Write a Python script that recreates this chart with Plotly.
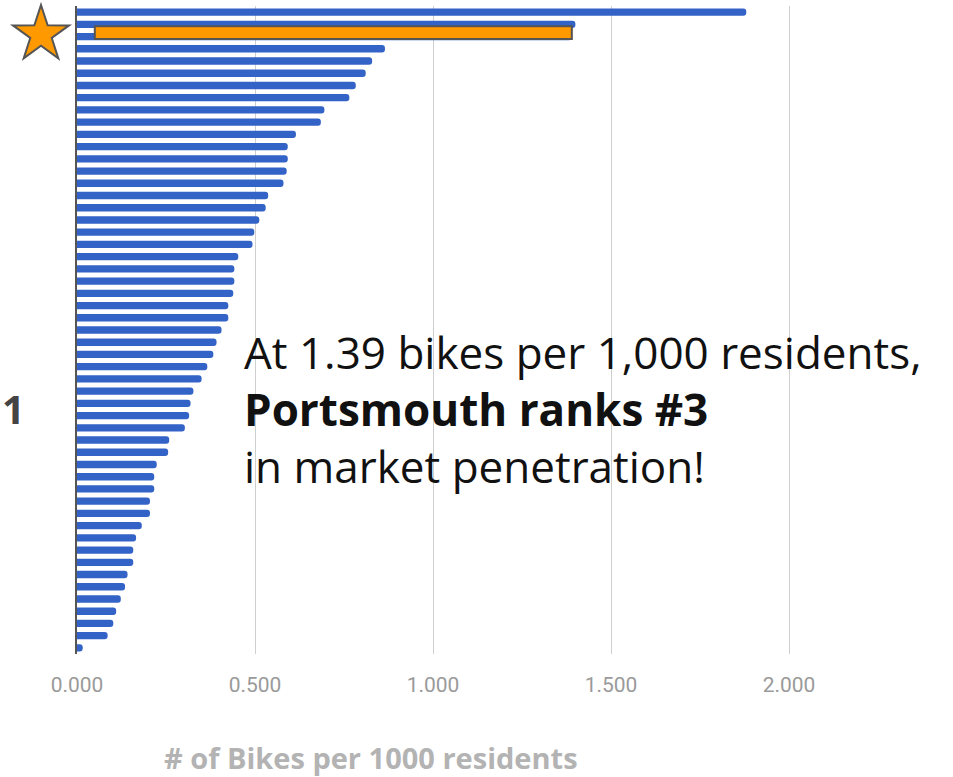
import math
import plotly.graph_objects as go

# Bikes per 1000 residents, ranked (rank 1 = highest)
ranks = list(range(1, 54))
bikes_per_1000 = [
    1.88, 1.40, 1.39, 0.865, 0.829, 0.811, 0.783, 0.765, 0.695, 0.685,
    0.615, 0.592, 0.592, 0.589, 0.580, 0.537, 0.530, 0.512, 0.498, 0.493,
    0.453, 0.442, 0.442, 0.439, 0.425, 0.425, 0.406, 0.392, 0.383, 0.366,
    0.350, 0.327, 0.319, 0.315, 0.303, 0.259, 0.256, 0.224, 0.217, 0.217,
    0.205, 0.205, 0.182, 0.166, 0.158, 0.158, 0.142, 0.135, 0.123, 0.110,
    0.102, 0.086, 0.016,
]

# Highlighted city
city_name = "Portsmouth"
city_rank = 3
city_value = 1.39
highlight_start = 0.05

tick_vals = [0.0, 0.5, 1.0, 1.5, 2.0]
tick_text = ["0.000", "0.500", "1.000", "1.500", "2.000"]

W, H = 953, 777
M_L, M_R, M_T, M_B = 77, 93, 6, 123
plot_w = W - M_L - M_R
plot_h = H - M_T - M_B


def px_x(px):
    return (px - M_L) / plot_w


def px_y(py):
    return 1 - (py - M_T) / plot_h


def star_path(cx, cy, r_out, r_in):
    """Five-pointed star as an SVG path in paper coordinates."""
    pts = []
    for k in range(10):
        ang = -math.pi / 2 + k * math.pi / 5
        r = r_out if k % 2 == 0 else r_in
        pts.append((px_x(cx + r * math.cos(ang)), px_y(cy + r * math.sin(ang))))
    return "M " + " L ".join(f"{x:.5f},{y:.5f}" for x, y in pts) + " Z"


fig = go.Figure()

fig.add_trace(go.Bar(
    x=bikes_per_1000,
    y=ranks,
    orientation="h",
    width=0.6,
    marker=dict(color="#3363c6", cornerradius=3, line=dict(width=0)),
    hoverinfo="x",
    showlegend=False,
))

# Orange highlight box for the featured city
fig.add_trace(go.Bar(
    x=[city_value - highlight_start],
    base=[highlight_start],
    y=[city_rank],
    orientation="h",
    width=1.04,
    offset=-0.85,
    marker=dict(color="#ff9900", line=dict(color="#555555", width=2)),
    hoverinfo="skip",
    showlegend=False,
))

fig.update_layout(
    width=W, height=H,
    margin=dict(l=M_L, r=M_R, t=M_T, b=M_B),
    paper_bgcolor="white",
    plot_bgcolor="white",
    barmode="overlay",
    xaxis=dict(
        range=[0, plot_w / 356.0],
        tickvals=tick_vals,
        ticktext=tick_text,
        showgrid=True,
        gridcolor="#cfcfcf",
        gridwidth=1,
        zeroline=False,
        showline=False,
        ticks="",
        ticklabelstandoff=16,
        tickfont=dict(family="Liberation Sans Narrow, Roboto, sans-serif",
                      size=21, color="#9a9a9a"),
    ),
    yaxis=dict(
        range=[53.5, 0.5],
        showticklabels=False,
        showgrid=False,
        zeroline=False,
        showline=True,
        linecolor="#555555",
        linewidth=1.5,
        ticks="",
    ),
    shapes=[
        dict(
            type="path",
            xref="paper", yref="paper",
            path=star_path(41, 34.5, 29.5, 11.3),
            fillcolor="#ff9900",
            line=dict(color="#555555", width=2),
            layer="above",
        ),
    ],
    annotations=[
        dict(
            text=f"At {city_value:.2f} bikes per 1,000 residents,<br>"
                 f"<b>{city_name} ranks #{city_rank}</b><br>"
                 "in market penetration!",
            xref="paper", yref="paper",
            x=px_x(242), y=px_y(409),
            xanchor="left", yanchor="middle",
            align="left", showarrow=False,
            font=dict(family="Open Sans, sans-serif", size=44,
                      color="#111111"),
        ),
        dict(
            text="<b>1</b>",
            xref="paper", yref="paper",
            x=px_x(13), y=px_y(408),
            xanchor="center", yanchor="middle",
            showarrow=False,
            font=dict(family="Open Sans, sans-serif", size=40, color="#444444"),
        ),
        dict(
            text="<b># of Bikes per 1000 residents</b>",
            xref="paper", yref="paper",
            x=px_x(371), y=px_y(757),
            xanchor="center", yanchor="middle",
            borderpad=0,
            showarrow=False,
            font=dict(family="Open Sans, sans-serif", size=29, color="#b3b3b3"),
        ),
    ],
)

fig.write_html("out.html")
